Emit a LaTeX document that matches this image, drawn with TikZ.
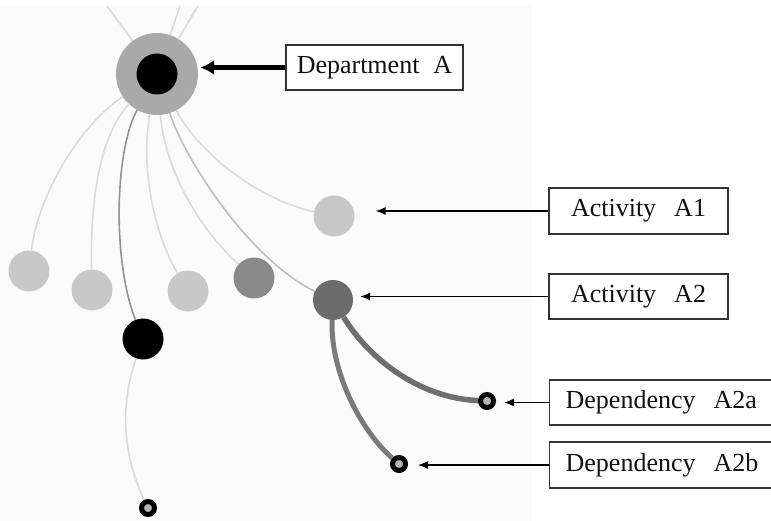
\documentclass[tikz,border=0pt]{standalone}
\usepackage{fontspec}
\setmainfont{Liberation Serif}
\usetikzlibrary{arrows.meta}

\definecolor{bgshade}{HTML}{FBFBFB}
\definecolor{outerring}{HTML}{A9A9A9}
\definecolor{palenode}{HTML}{C8C8C8}
\definecolor{midnode}{HTML}{8A8A8A}
\definecolor{darknode}{HTML}{6B6B6B}
\definecolor{ringfill}{HTML}{B4B4B4}
\definecolor{twigcol}{HTML}{DADADA}
\definecolor{twigdark}{HTML}{929292}
\definecolor{twigmid}{HTML}{BEBEBE}
\definecolor{depcolA}{HTML}{6E6E6E}
\definecolor{depcolB}{HTML}{7A7A7A}
\definecolor{boxline}{HTML}{333333}
\definecolor{textcol}{HTML}{111111}

\tikzset{
  bubble/.style={circle, inner sep=0pt, minimum size=41pt},
  ringdot/.style={circle, inner sep=0pt, minimum size=13pt, draw=black, line width=5pt, fill=ringfill},
  twig/.style={line width=1.6pt, draw=twigcol},
  depline/.style={line width=5.5pt},
  labelbox/.style={draw=boxline, line width=1.3pt, fill=white, inner sep=0pt,
    minimum height=45pt, text=textcol, font=\fontsize{26}{30}\selectfont},
  labelarrow/.style={-{Latex[length=10pt,width=8pt]}, line width=1.3pt}
}

\begin{document}
\begin{tikzpicture}[x=1pt,y=-1pt]
\useasboundingbox (0,0) rectangle (771,521);
\fill[bgshade] (0,6) rectangle (532,521);

% nodes of the network
\node[bubble, fill=outerring, minimum size=82pt] (dept) at (157,74) {};
\node[bubble, fill=black] (deptcore) at (157,74) {};
\node[bubble, fill=palenode] (a1) at (334,216) {};
\node[bubble, fill=darknode, minimum size=40pt] (a2) at (333,300) {};
\node[bubble, fill=palenode] (p1) at (29,271) {};
\node[bubble, fill=palenode] (p2) at (92,290) {};
\node[bubble, fill=black] (blk) at (143,339) {};
\node[bubble, fill=palenode] (p3) at (188,291) {};
\node[bubble, fill=midnode] (m1) at (254,278) {};
\node[ringdot] (depa) at (487,401) {};
\node[ringdot] (depb) at (399,464) {};
\node[ringdot] (leaf) at (148,508) {};

% free ends running off the top
\coordinate (up1) at (107,6);
\coordinate (up2) at (180,6);
\coordinate (up3) at (198,6);

% thin links
\draw[twig] (dept) -- (up1);
\draw[twig] (dept) -- (up2);
\draw[twig] (dept) -- (up3);
\draw[twig] (dept) .. controls (80,125) and (38,195) .. (p1);
\draw[twig] (dept) .. controls (100,135) and (90,200) .. (p2);
\draw[twig, draw=twigdark] (dept) .. controls (115,150) and (112,260) .. (blk);
\draw[twig] (dept) .. controls (140,170) and (155,235) .. (p3);
\draw[twig] (dept) .. controls (165,170) and (200,230) .. (m1);
\draw[twig, draw=twigmid] (dept) .. controls (185,160) and (250,260) .. (a2);
\draw[twig] (dept) .. controls (200,155) and (260,200) .. (a1);
\draw[twig] (blk) .. controls (118,410) and (125,460) .. (leaf);

% dependency links
\draw[depline, draw=depcolA] (a2) .. controls (370,360) and (420,398) .. (depa);
\draw[depline, draw=depcolB, line width=5pt] (a2) .. controls (330,370) and (360,430) .. (depb);

% labels
\node[labelbox, minimum width=177pt] (ldept) at (374.5,67.5) {Department\hspace{14pt}A};
\node[labelbox, minimum width=179pt, minimum height=46pt] (la1) at (638.5,211) {Activity\hspace{18pt}A1};
\node[labelbox, minimum width=179pt] (la2) at (638.5,296.5) {Activity\hspace{18pt}A2};
\node[labelbox, anchor=west, minimum width=260pt, align=left, inner xsep=16pt] (ldepa) at (549,402.5) {Dependency\hspace{18pt}A2a\hspace{40pt}};
\node[labelbox, anchor=west, minimum width=260pt, minimum height=46pt, align=left, inner xsep=16pt] (ldepb) at (549,465) {Dependency\hspace{18pt}A2b\hspace{40pt}};

% pointers
\draw[-{Latex[length=14pt,width=15pt]}, line width=4.5pt, shorten >=2pt] (ldept.west) -- (ldept.west -| dept.east);
\draw[labelarrow, shorten >=21pt] (la1.west) -- (la1.west -| a1.east);
\draw[labelarrow, shorten >=7pt] (la2.west) -- (la2.west -| a2.east);
\draw[labelarrow, shorten >=8pt] (ldepa.west) -- (ldepa.west -| depa.east);
\draw[labelarrow, shorten >=10pt] (ldepb.west) -- (ldepb.west -| depb.east);
\end{tikzpicture}
\end{document}
